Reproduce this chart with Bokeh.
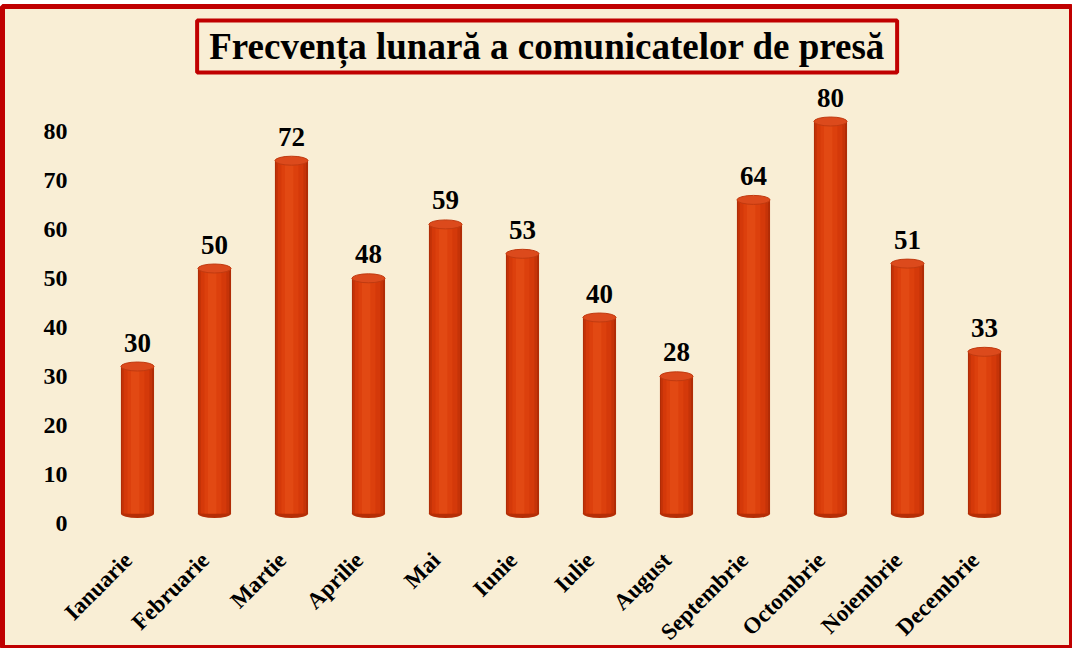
import math
from bokeh.plotting import figure
from bokeh.models import Range1d, LinearAxis, FixedTicker, ColumnDataSource
from bokeh.core.properties import value
from bokeh.embed import file_html
from bokeh.resources import INLINE

# ---- data ----
months = ["Ianuarie", "Februarie", "Martie", "Aprilie", "Mai", "Iunie",
          "Iulie", "August", "Septembrie", "Octombrie", "Noiembrie", "Decembrie"]
counts = [30, 50, 72, 48, 59, 53, 40, 28, 64, 80, 51, 33]
y_ticks = [0, 10, 20, 30, 40, 50, 60, 70, 80]
title_text = "Frecvența lunară a comunicatelor de presă"

xs = list(range(len(months)))
src = ColumnDataSource(dict(x=xs, top=counts, lab=[str(c) for c in counts], zero=[0] * len(xs)))

FONT = value("Liberation Serif")
BG = "#f9eed5"
RED = "#c00000"

X0, X1 = -1.753, 12.143
p = figure(width=1072, height=648, output_backend="svg", toolbar_location=None,
           x_range=Range1d(X0, X1), y_range=Range1d(-27.55, 103.47),
           x_axis_type=None, y_axis_type=None,
           min_border_left=2, min_border_top=6, min_border_right=0, min_border_bottom=0)
p.background_fill_color = BG
p.border_fill_color = "white"
p.outline_line_color = RED
p.outline_line_width = 5
p.extra_y_ranges = {"lab": Range1d(-25.51, 105.51)}
p.extra_x_ranges = {"xlab": Range1d(X0 + 0.12, X1 + 0.12)}

# ---- cylinders ----
W = 0.43
p.ellipse(x="x", y="zero", width=W, height=9, height_units="screen", source=src,
          fill_color="#b52e06", line_color=None)
strips = [(W, 0.0, "#b02c06"), (0.39, -0.005, "#c53308"), (0.33, -0.01, "#d4390a"),
          (0.22, -0.02, "#dc400d"), (0.11, -0.03, "#e24913")]
for w, dx, col in strips:
    p.vbar(x=[x + dx for x in xs], top=counts, bottom=0, width=w,
           fill_color=col, line_color=None)
p.ellipse(x="x", y="top", width=W, height=9, height_units="screen", source=src,
          fill_color="#dc4a1c", line_color="#c03a10", line_width=1)

# ---- value labels ----
p.text(x="x", y="top", text="lab", source=src, text_align="center",
       text_baseline="alphabetic", y_offset=-24, text_font=FONT,
       text_font_style="bold", text_font_size="27px", text_color="black")

# ---- title box ----
p.rect(x=[5.32], y=[95.3], width=[700], height=[52], width_units="screen",
       height_units="screen", fill_color=None, line_color=RED, line_width=4)
p.text(x=[5.32], y=[95.3], text=[title_text], text_align="center",
       text_baseline="middle", text_font=FONT, text_font_style="bold",
       text_font_size="37px", text_color="black")

# ---- axes ----
yax = LinearAxis(y_range_name="lab", ticker=FixedTicker(ticks=y_ticks))
yax.fixed_location = -0.792
yax.axis_line_color = None
yax.major_tick_line_color = None
yax.minor_tick_line_color = None
yax.major_label_standoff = 3
yax.major_label_text_font = "Liberation Serif"
yax.major_label_text_font_style = "bold"
yax.major_label_text_font_size = "24px"
yax.major_label_text_color = "black"
p.add_layout(yax, "left")

xax = LinearAxis(x_range_name="xlab", ticker=FixedTicker(ticks=xs),
                 major_label_overrides={i: m for i, m in zip(xs, months)})
xax.fixed_location = -5.5
xax.axis_line_color = None
xax.major_tick_line_color = None
xax.minor_tick_line_color = None
xax.major_label_standoff = 10
xax.major_label_orientation = math.pi / 4
xax.major_label_text_font = "Liberation Serif"
xax.major_label_text_font_style = "bold"
xax.major_label_text_font_size = "23px"
xax.major_label_text_color = "black"
p.add_layout(xax, "below")

open("out.html", "w").write(file_html(p, INLINE))
